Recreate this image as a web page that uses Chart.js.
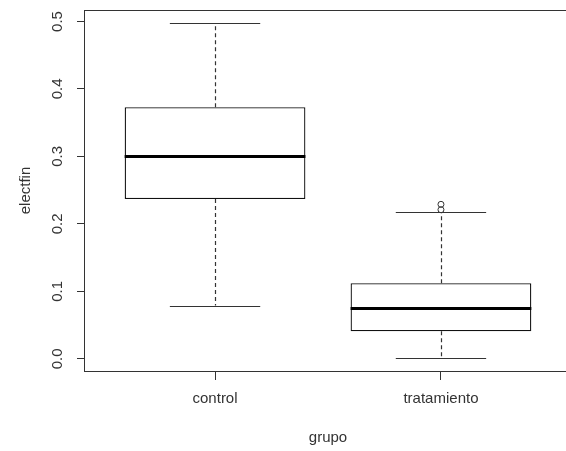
<!DOCTYPE html>
<html>
<head>
<meta charset="utf-8">
<script src="https://cdn.jsdelivr.net/npm/chart.js@4"></script>
<style>
  html, body { margin: 0; padding: 0; background: #fff; overflow: hidden; }
  canvas { display: block; }
</style>
</head>
<body>
<canvas id="chart" width="600" height="451"></canvas>
<script>
// box statistics
var groups = ['control', 'tratamiento'];
var lowWhisker = [0.079, 0.002];
var q1 = [0.237, 0.041];
var median = [0.300, 0.075];
var q3 = [0.373, 0.112];
var highWhisker = [0.497, 0.217];
var outliers = [[], [0.221, 0.229]];

var yTicks = [0.0, 0.1, 0.2, 0.3, 0.4, 0.5];
var yTickLabels = ['0.0', '0.1', '0.2', '0.3', '0.4', '0.5'];

var lineColor = '#333';
var textColor = '#333';

Chart.defaults.font.family = "'Liberation Sans', Arial, sans-serif";
Chart.defaults.font.size = 15;
Chart.defaults.color = textColor;

// whiskers, caps and medians, drawn with the chart's scales
var boxPlugin = {
    id: 'boxParts',
    afterDatasetDraw: function(chart, args) {
        if (args.index !== 0) return;
        var ctx = chart.ctx;
        var xs = chart.scales.x;
        var ys = chart.scales.y;
        ctx.save();
        for (var i = 0; i < groups.length; i++) {
            var xc = Math.round(xs.getPixelForValue(i + 1)) + 0.5;
            var capL = xs.getPixelForValue(i + 1 - 0.2);
            var capR = xs.getPixelForValue(i + 1 + 0.2);
            var boxL = xs.getPixelForValue(i + 1 - 0.4);
            var boxR = xs.getPixelForValue(i + 1 + 0.4);

            // dashed whiskers
            ctx.strokeStyle = lineColor;
            ctx.lineWidth = 1.2;
            ctx.setLineDash([4, 3]);
            ctx.beginPath();
            ctx.moveTo(xc, ys.getPixelForValue(q3[i]));
            ctx.lineTo(xc, ys.getPixelForValue(highWhisker[i]));
            ctx.moveTo(xc, ys.getPixelForValue(q1[i]));
            ctx.lineTo(xc, ys.getPixelForValue(lowWhisker[i]));
            ctx.stroke();

            // caps
            ctx.setLineDash([]);
            ctx.lineWidth = 1.2;
            ctx.beginPath();
            var yh = Math.round(ys.getPixelForValue(highWhisker[i])) + 0.5;
            var yl = Math.round(ys.getPixelForValue(lowWhisker[i])) + 0.5;
            ctx.moveTo(capL, yh);
            ctx.lineTo(capR, yh);
            ctx.moveTo(capL, yl);
            ctx.lineTo(capR, yl);
            ctx.stroke();

            // median
            ctx.strokeStyle = '#000';
            ctx.lineWidth = 3;
            ctx.beginPath();
            var ym = Math.round(ys.getPixelForValue(median[i])) + 0.5;
            ctx.moveTo(boxL, ym);
            ctx.lineTo(boxR, ym);
            ctx.stroke();
        }
        ctx.restore();
    },
    afterDraw: function(chart) {
        // frame round the plot region
        var a = chart.chartArea;
        var ctx = chart.ctx;
        ctx.save();
        ctx.strokeStyle = lineColor;
        ctx.lineWidth = 1;
        ctx.strokeRect(Math.round(a.left) + 0.5, Math.round(a.top) + 0.5,
            Math.round(a.right - a.left), Math.round(a.bottom - a.top));
        ctx.restore();
    }
};

var outlierPoints = [];
outliers.forEach(function(list, i) {
    list.forEach(function(v) { outlierPoints.push({ x: i + 1, y: v }); });
});

var ctx = document.getElementById('chart').getContext('2d');
var chart = new Chart(ctx, {
    type: 'bar',
    data: {
        datasets: [{
            label: 'box',
            data: groups.map(function(g, i) { return { x: i + 1, y: [q1[i], q3[i]] }; }),
            backgroundColor: '#fff',
            borderColor: '#111',
            borderWidth: 1.3,
            borderSkipped: false,
            categoryPercentage: 0.8,
            barPercentage: 1
        }, {
            type: 'scatter',
            label: 'outliers',
            data: outlierPoints,
            pointStyle: 'circle',
            pointRadius: 3,
            borderWidth: 1,
            borderColor: lineColor,
            backgroundColor: 'rgba(255,255,255,0)'
        }]
    },
    options: {
        responsive: false,
        animation: false,
        events: [],
        layout: { padding: { left: 0, top: 10, right: 28, bottom: 0 } },
        plugins: { legend: { display: false }, tooltip: { enabled: false } },
        scales: {
            x: {
                type: 'linear',
                min: 0.42,
                max: 2.58,
                offset: false,
                grid: { drawOnChartArea: false, drawTicks: true, tickLength: 9, color: lineColor, offset: false },
                border: { display: false },
                ticks: {
                    padding: 10,
                    maxRotation: 0,
                    autoSkip: false,
                    callback: function(v, i) { return groups[i]; }
                },
                afterBuildTicks: function(scale) {
                    scale.ticks = groups.map(function(g, i) { return { value: i + 1 }; });
                },
                afterFit: function(scale) {
                    scale.height = 80;
                    scale.paddingLeft = 0;
                    scale.paddingRight = 0;
                },
                title: { display: true, text: 'grupo', padding: { top: 0, bottom: 4 } }
            },
            y: {
                min: -0.018,
                max: 0.517,
                grid: { drawOnChartArea: false, drawTicks: true, tickLength: 7, color: lineColor },
                border: { display: false },
                ticks: {
                    padding: 9,
                    minRotation: 90,
                    maxRotation: 90,
                    crossAlign: 'center',
                    callback: function(v, i) { return yTickLabels[i]; }
                },
                afterBuildTicks: function(scale) {
                    scale.ticks = yTicks.map(function(v) { return { value: v }; });
                },
                afterFit: function(scale) {
                    scale.width = 84;
                    scale.paddingTop = 0;
                    scale.paddingBottom = 0;
                },
                title: { display: true, text: 'electfin', padding: { top: 17, bottom: 0 } }
            }
        }
    },
    plugins: [boxPlugin]
});
</script>
</body>
</html>
